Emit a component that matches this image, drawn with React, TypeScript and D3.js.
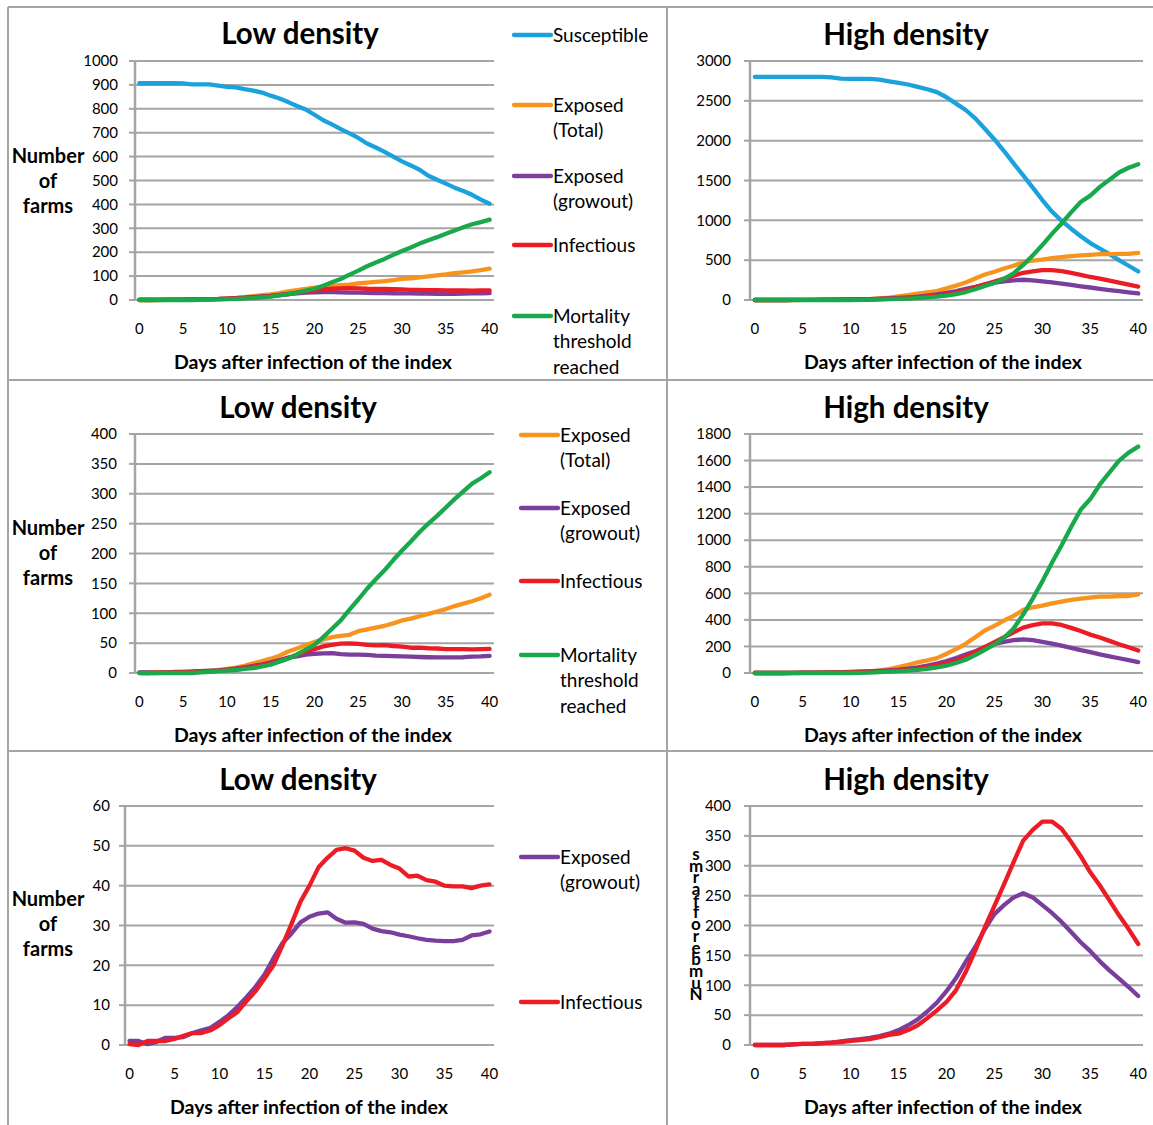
import React from "react";
import * as d3 from "d3";

const DAYS = [0,1,2,3,4,5,6,7,8,9,10,11,12,13,14,15,16,17,18,19,20,21,22,23,24,25,26,27,28,29,30,31,32,33,34,35,36,37,38,39,40];
const X_TICKS = [0, 5, 10, 15, 20, 25, 30, 35, 40];

// Low density
const LOW_SUSCEPTIBLE = [907,907,907,907,907,906,902,902,902,897,892,890,882,876,868,855,843,828,812,797,775,752,735,715,697,678,655,638,620,600,580,563,545,520,503,487,470,456,440,420,403];
const LOW_EXPOSED_TOTAL = [0,0,0,1,1,2,2,3,4,5,7,9,12,16,20,24,29,36,41,47,52,56,60,62,64,70,73,76,79,83,88,91,95,99,103,107,112,116,120,125,131];
const LOW_EXPOSED_GROWOUT = [1,1,0.2,0.8,1.8,1.8,2,3,3.7,4.3,5.8,7.5,9.6,12,14.6,17.7,21.8,25.6,28,30.8,32.2,33,33.3,31.7,30.7,30.8,30.4,29.2,28.6,28.3,27.7,27.3,26.8,26.4,26.2,26.1,26.1,26.4,27.5,27.8,28.5];
const LOW_INFECTIOUS = [0.2,0,1,1,1,1.5,2.3,3,3,3.7,5,6.7,8.3,11,13.5,16.7,20,25,30.4,36,40,44.6,47,49,49.4,48.8,47,46.2,46.5,45.2,44.3,42.3,42.5,41.4,41,40,39.8,39.8,39.4,40,40.3];
const LOW_MORTALITY = [0,0,0,0,0,0,0,1,2,3,4,5,7,8,11,14,19,24,31,39,47,60,74,88,106,123,141,157,172,189,205,220,236,250,263,277,291,304,317,326,336];

// High density
const HIGH_SUSCEPTIBLE = [2800,2800,2800,2800,2800,2800,2800,2800,2795,2780,2775,2775,2775,2765,2745,2725,2705,2675,2645,2610,2545,2465,2385,2280,2150,2015,1870,1715,1565,1410,1255,1110,995,895,800,715,645,575,500,430,360];
const HIGH_EXPOSED_TOTAL = [0,0,0,0,0,1,1,2,3,4,6,9,12,20,30,45,62,80,95,112,145,180,220,270,320,355,395,430,475,495,507,525,537,550,560,567,575,575,580,580,592];
const HIGH_EXPOSED_GROWOUT = [0,0,0,0,1,2,2,3,4,6,8,10,12,15,19,25,33,43,56,71,90,112,139,164,194,219,234,247,254,247,234,221,206,189,172,157,140,125,111,97,82];
const HIGH_INFECTIOUS = [0,0,0,0,1,2,2,3,4,5,7,8,10,13,17,19,25,33,45,58,72,92,122,158,197,233,269,306,342,360,374,374,362,340,316,289,267,242,217,194,169];
const HIGH_MORTALITY = [0,0,0,0,0,0,0,0,0,0,0,1,3,6,10,14,18,24,32,42,55,75,100,135,175,215,265,335,440,560,690,830,960,1100,1230,1310,1420,1510,1600,1660,1705];

const C_SUS = "#1ba1dc";
const C_EXT = "#f7941e";
const C_EXG = "#7a3e9c";
const C_INF = "#ec1c27";
const C_MOR = "#19a84b";

const FONT = "Lato, 'Open Sans', sans-serif";
const GRID = "#a5a5a5";

type S = { values: number[]; color: string };
type Cfg = {
  x0: number; x1: number; yTop: number; yBot: number; yMax: number; step: number;
  labelRight: number; title: string; titleX: number; titleY: number; xTitleX: number; xTitleY: number;
};

function Panel({ cfg, series }: { cfg: Cfg; series: S[] }) {
  const x = d3.scalePoint<number>().domain(DAYS).range([cfg.x0, cfg.x1]).padding(0.5);
  const y = d3.scaleLinear().domain([0, cfg.yMax]).range([cfg.yBot, cfg.yTop]);
  const yTicks = d3.range(0, cfg.yMax + cfg.step / 2, cfg.step);
  const line = d3.line<number>().x((_, i) => x(DAYS[i]) as number).y((v) => y(v));
  return (
    <g>
      <text x={cfg.titleX} y={cfg.titleY} textAnchor="middle" fontFamily={FONT} fontWeight="bold" fontSize={29.5}>{cfg.title}</text>
      {yTicks.map((t) => (
        <g key={t}>
          <line x1={cfg.x0} x2={cfg.x1} y1={y(t)} y2={y(t)} stroke={GRID} strokeWidth={2} />
          <line x1={cfg.x0 - 6} x2={cfg.x0} y1={y(t)} y2={y(t)} stroke={GRID} strokeWidth={2} />
          <text x={cfg.labelRight} y={y(t)} dy="0.35em" textAnchor="end" fontFamily={FONT} fontSize={15}>{t}</text>
        </g>
      ))}
      <line x1={cfg.x0} x2={cfg.x0} y1={cfg.yTop} y2={cfg.yBot} stroke={GRID} strokeWidth={2.5} />
      {X_TICKS.map((t) => (
        <text key={t} x={x(t)} y={cfg.yBot + 29} dy="0.35em" textAnchor="middle" fontFamily={FONT} fontSize={15}>{t}</text>
      ))}
      <text x={cfg.xTitleX} y={cfg.xTitleY} textAnchor="middle" fontFamily={FONT} fontWeight="bold" fontSize={19.5}>Days after infection of the index</text>
      {series.map((s, i) => (
        <path key={i} d={line(s.values) || ""} fill="none" stroke={s.color} strokeWidth={4.3} strokeLinejoin="round" strokeLinecap="round" />
      ))}
    </g>
  );
}

function YTitle({ cx, cy }: { cx: number; cy: number }) {
  return (
    <g fontFamily={FONT} fontWeight="bold" fontSize={20} textAnchor="middle">
      {["Number", "of", "farms"].map((w, i) => (
        <text key={w} x={cx} y={cy + (i - 1) * 25} dy="0.35em">{w}</text>
      ))}
    </g>
  );
}

type L = { lines: string[]; color: string; y: number };
function Legend({ x0, items }: { x0: number; items: L[] }) {
  return (
    <g fontFamily={FONT} fontSize={19}>
      {items.map((it, i) => (
        <g key={i}>
          <line x1={x0} x2={x0 + 37} y1={it.y} y2={it.y} stroke={it.color} strokeWidth={4.3} strokeLinecap="round" />
          {it.lines.map((ln, j) => (
            <text key={j} x={x0 + 39} y={it.y + j * 25.5} dy="0.35em">{ln}</text>
          ))}
        </g>
      ))}
    </g>
  );
}

const REV_LABEL = "Number of farms".split("").reverse().filter((c) => c !== " ");

export default function App() {
  const P1: Cfg = { x0: 135, x1: 494, yTop: 61, yBot: 300, yMax: 1000, step: 100, labelRight: 118, title: "Low density", titleX: 300, titleY: 44, xTitleX: 313, xTitleY: 369 };
  const P2: Cfg = { x0: 750, x1: 1143, yTop: 61, yBot: 300, yMax: 3000, step: 500, labelRight: 731, title: "High density", titleX: 906, titleY: 45, xTitleX: 943, xTitleY: 369 };
  const P3: Cfg = { x0: 135, x1: 494, yTop: 434, yBot: 673, yMax: 400, step: 50, labelRight: 117, title: "Low density", titleX: 298, titleY: 418, xTitleX: 313, xTitleY: 742 };
  const P4: Cfg = { x0: 750, x1: 1143, yTop: 434, yBot: 673, yMax: 1800, step: 200, labelRight: 731, title: "High density", titleX: 906, titleY: 418, xTitleX: 943, xTitleY: 742 };
  const P5: Cfg = { x0: 125, x1: 494, yTop: 806, yBot: 1045, yMax: 60, step: 10, labelRight: 110, title: "Low density", titleX: 298, titleY: 790, xTitleX: 309, xTitleY: 1114 };
  const P6: Cfg = { x0: 750, x1: 1143, yTop: 806, yBot: 1045, yMax: 400, step: 50, labelRight: 731, title: "High density", titleX: 906, titleY: 790, xTitleX: 943, xTitleY: 1114 };

  return (
    <div style={{ position: "absolute", left: 0, top: 0 }}>
      <svg width={1153} height={1125} style={{ display: "block", background: "#fff" }}>
        <rect x={0} y={0} width={1153} height={1125} fill="#fff" />
        <line x1={8} x2={1153} y1={7} y2={7} stroke={GRID} strokeWidth={2} />
        <line x1={8} x2={8} y1={7} y2={1125} stroke={GRID} strokeWidth={2} />
        <line x1={667} x2={667} y1={7} y2={1125} stroke={GRID} strokeWidth={2} />
        <line x1={8} x2={1153} y1={380} y2={380} stroke={GRID} strokeWidth={2} />
        <line x1={8} x2={1153} y1={751} y2={751} stroke={GRID} strokeWidth={2} />

        <Panel cfg={P1} series={[
          { values: LOW_SUSCEPTIBLE, color: C_SUS },
          { values: LOW_EXPOSED_TOTAL, color: C_EXT },
          { values: LOW_EXPOSED_GROWOUT, color: C_EXG },
          { values: LOW_INFECTIOUS, color: C_INF },
          { values: LOW_MORTALITY, color: C_MOR },
        ]} />
        <YTitle cx={48} cy={181} />
        <Legend x0={514} items={[
          { lines: ["Susceptible"], color: C_SUS, y: 35 },
          { lines: ["Exposed", "(Total)"], color: C_EXT, y: 105 },
          { lines: ["Exposed", "(growout)"], color: C_EXG, y: 176 },
          { lines: ["Infectious"], color: C_INF, y: 245 },
          { lines: ["Mortality", "threshold", "reached"], color: C_MOR, y: 316 },
        ]} />

        <Panel cfg={P2} series={[
          { values: HIGH_SUSCEPTIBLE, color: C_SUS },
          { values: HIGH_EXPOSED_TOTAL, color: C_EXT },
          { values: HIGH_EXPOSED_GROWOUT, color: C_EXG },
          { values: HIGH_INFECTIOUS, color: C_INF },
          { values: HIGH_MORTALITY, color: C_MOR },
        ]} />

        <Panel cfg={P3} series={[
          { values: LOW_EXPOSED_TOTAL, color: C_EXT },
          { values: LOW_EXPOSED_GROWOUT, color: C_EXG },
          { values: LOW_INFECTIOUS, color: C_INF },
          { values: LOW_MORTALITY, color: C_MOR },
        ]} />
        <YTitle cx={48} cy={553} />
        <Legend x0={521} items={[
          { lines: ["Exposed", "(Total)"], color: C_EXT, y: 435 },
          { lines: ["Exposed", "(growout)"], color: C_EXG, y: 508 },
          { lines: ["Infectious"], color: C_INF, y: 581 },
          { lines: ["Mortality", "threshold", "reached"], color: C_MOR, y: 655 },
        ]} />

        <Panel cfg={P4} series={[
          { values: HIGH_EXPOSED_TOTAL, color: C_EXT },
          { values: HIGH_EXPOSED_GROWOUT, color: C_EXG },
          { values: HIGH_INFECTIOUS, color: C_INF },
          { values: HIGH_MORTALITY, color: C_MOR },
        ]} />

        <Panel cfg={P5} series={[
          { values: LOW_EXPOSED_GROWOUT, color: C_EXG },
          { values: LOW_INFECTIOUS, color: C_INF },
        ]} />
        <YTitle cx={48} cy={924} />
        <Legend x0={521} items={[
          { lines: ["Exposed", "(growout)"], color: C_EXG, y: 857 },
          { lines: ["Infectious"], color: C_INF, y: 1002 },
        ]} />

        <Panel cfg={P6} series={[
          { values: HIGH_EXPOSED_GROWOUT, color: C_EXG },
          { values: HIGH_INFECTIOUS, color: C_INF },
        ]} />
        <g fontFamily={FONT} fontWeight="bold" fontSize={17} textAnchor="middle">
          {REV_LABEL.map((c, i) => (
            <text key={i} x={696} y={854 + i * 11.7} dy="0.35em">{c}</text>
          ))}
        </g>
      </svg>
    </div>
  );
}
